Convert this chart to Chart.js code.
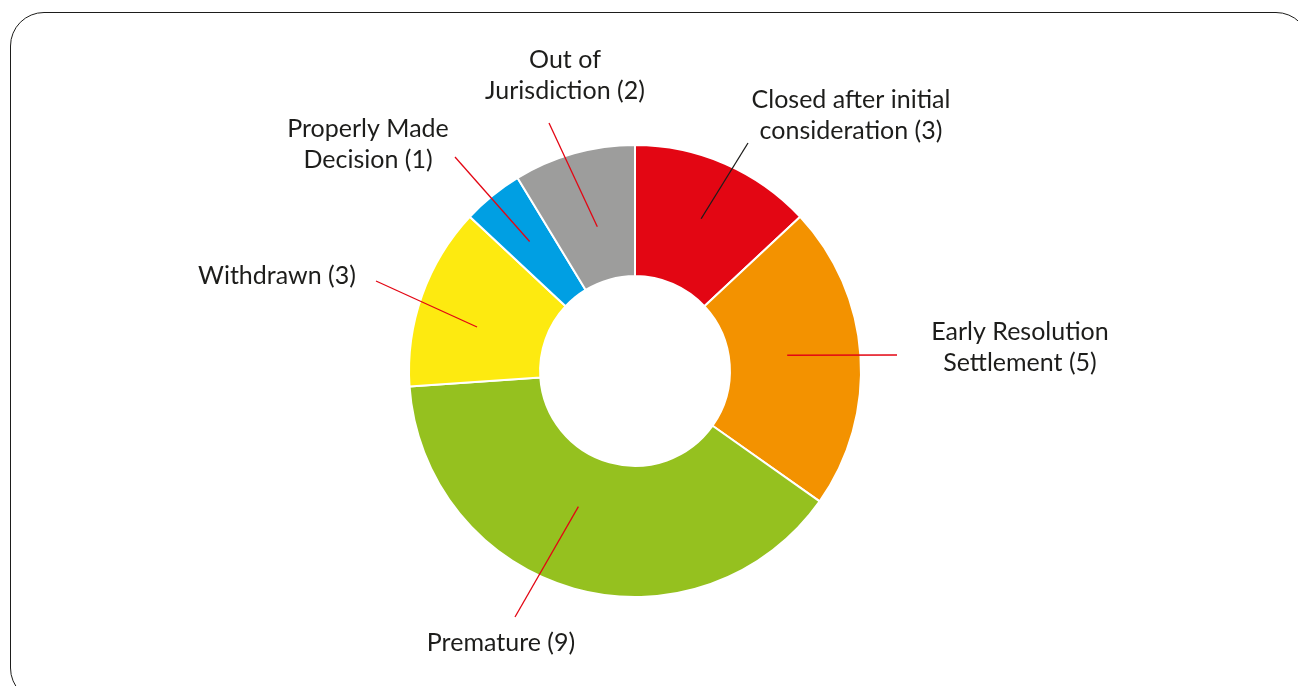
<!DOCTYPE html>
<html>
<head>
<meta charset="utf-8">
<script src="https://cdn.jsdelivr.net/npm/chart.js@4"></script>
<style>
    html, body { margin: 0; padding: 0; background: #fff; }
    body { width: 1298px; height: 686px; overflow: hidden; position: relative; }
    .frame {
        position: absolute; left: 10px; top: 12px;
        width: 1300px; height: 690px;
        border: 1.5px solid #1d1d1b; border-radius: 34px;
        box-sizing: border-box;
    }
    #wrap { position: absolute; left: 0; top: 0; width: 1298px; height: 686px; }
</style>
</head>
<body>
<div class="frame"></div>
<div id="wrap"><canvas id="outcomes"></canvas></div>
<script>
// Complaint outcomes
const categories = [
    "Closed after initial consideration",
    "Early Resolution Settlement",
    "Premature",
    "Withdrawn",
    "Properly Made Decision",
    "Out of Jurisdiction"
];
const counts = [3, 5, 9, 3, 1, 2];
const labelLines = [
    ["Closed after initial", "consideration (3)"],
    ["Early Resolution", "Settlement (5)"],
    ["Premature (9)"],
    ["Withdrawn (3)"],
    ["Properly Made", "Decision (1)"],
    ["Out of", "Jurisdiction (2)"]
];

const sliceColors = ["#e30613", "#f39200", "#95c11f", "#fdea10", "#009fe3", "#9d9d9c"];
const leaderColors = ["#1d1d1b", "#e30613", "#e30613", "#e30613", "#e30613", "#e30613"];

// leader placement per slice: angle nudge (deg), start radius, end offset and label offset from centre
const leaderLayout = [
    { nudge: 0,  r: 166, end: [113, -228], text: [216, -271] },
    { nudge: -2, r: 153, end: [262, -16],  text: [385, -39] },
    { nudge: 7,  r: 147, end: [-120, 246], text: [-134, 272] },
    { nudge: -4, r: 164, end: [-259, -90], text: [-358, -95] },
    { nudge: 0,  r: 167, end: [-180, -214],text: [-267, -242] },
    { nudge: 1,  r: 149, end: [-86, -248], text: [-70, -311] }
];

const leaderLabels = {
    id: "leaderLabels",
    afterDatasetsDraw(chart) {
        const ctx = chart.ctx;
        const arcs = chart.getDatasetMeta(0).data;
        ctx.save();
        arcs.forEach((arc, i) => {
            const lay = leaderLayout[i];
            const cx = arc.x, cy = arc.y;
            const mid = (arc.startAngle + arc.endAngle) / 2 + lay.nudge * Math.PI / 180;
            const sx = cx + Math.cos(mid) * lay.r;
            const sy = cy + Math.sin(mid) * lay.r;

            ctx.beginPath();
            ctx.moveTo(sx, sy);
            ctx.lineTo(cx + lay.end[0], cy + lay.end[1]);
            ctx.strokeStyle = leaderColors[i];
            ctx.lineWidth = 1.3;
            ctx.stroke();

            ctx.fillStyle = "#1d1d1b";
            ctx.font = "25px Lato";
            ctx.textAlign = "center";
            ctx.textBaseline = "middle";
            labelLines[i].forEach((line, k) => {
                ctx.fillText(line, cx + lay.text[0], cy + lay.text[1] + k * 31);
            });
        });
        ctx.restore();
    }
};

new Chart(document.getElementById("outcomes"), {
    type: "doughnut",
    data: {
        labels: categories,
        datasets: [{
            data: counts,
            backgroundColor: sliceColors,
            borderColor: "#ffffff",
            borderWidth: 2,
            hoverOffset: 0
        }]
    },
    options: {
        responsive: true,
        maintainAspectRatio: false,
        animation: false,
        cutout: "42%",
        layout: { padding: { top: 144, bottom: 88, left: 0, right: 28 } },
        plugins: {
            legend: { display: false },
            tooltip: { enabled: false }
        }
    },
    plugins: [leaderLabels]
});
</script>
</body>
</html>
